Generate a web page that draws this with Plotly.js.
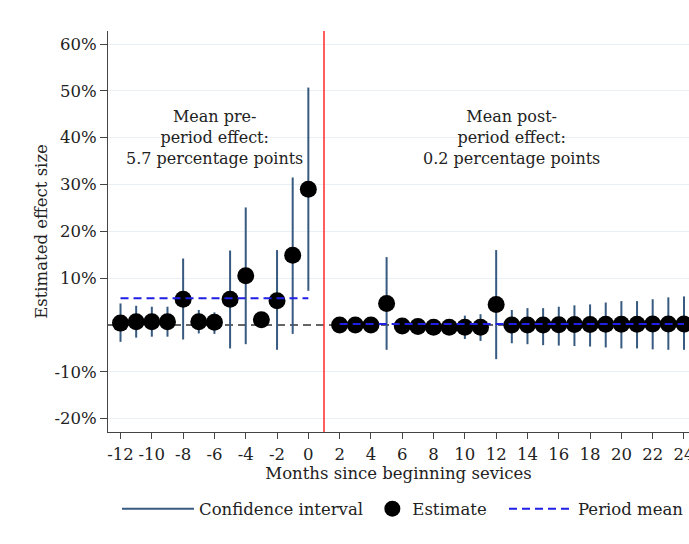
<!DOCTYPE html>
<html>
<head>
<meta charset="utf-8">
<script src="https://cdn.plot.ly/plotly-3.0.1.min.js"></script>
<style>html,body{margin:0;padding:0;background:#fff;}#chart{width:689px;height:544px;}</style>
</head>
<body>
<div id="chart"></div>
<script>
// ---- data ----
const monthsPre = [-12, -11, -10, -9, -8, -7, -6, -5, -4, -3, -2, -1, 0];
const estPre    = [0.4, 0.7, 0.7, 0.7, 5.5, 0.7, 0.6, 5.5, 10.5, 1.1, 5.2, 14.9, 29.0];
const hiPre     = [4.6, 4.1, 3.9, 3.9, 14.2, 3.2, 2.7, 15.9, 25.1, 2.6, 16.0, 31.5, 50.7];
const loPre     = [-3.6, -2.7, -2.5, -2.5, -3.1, -1.8, -1.9, -5.0, -4.1, -0.5, -5.3, -1.9, 7.3];

const monthsPost = [2, 3, 4, 5, 6, 7, 8, 9, 10, 11, 12, 13, 14, 15, 16, 17, 18, 19, 20, 21, 22, 23, 24];
const estPost    = [0.0, 0.0, 0.0, 4.6, -0.2, -0.3, -0.5, -0.5, -0.5, -0.5, 4.4, 0.0, 0.0, 0.0, 0.05, 0.1, 0.1, 0.15, 0.15, 0.15, 0.2, 0.2, 0.2];
const hiPost     = [1.3, 1.3, 1.3, 14.5, 1.1, 1.0, 0.9, 1.0, 2.0, 2.3, 16.0, 3.2, 3.6, 3.6, 3.9, 4.2, 4.4, 4.8, 5.1, 5.1, 5.5, 5.9, 6.1];
const loPost     = [-1.3, -1.3, -1.3, -5.3, -1.5, -1.6, -1.8, -1.9, -3.0, -3.4, -7.3, -3.9, -4.1, -4.3, -4.4, -4.5, -4.6, -4.8, -5.0, -5.0, -5.2, -5.3, -5.3];

const preMean  = 5.7;
const postMean = 0.2;
const serviceStart = 1;

const xTickVals = [-12, -10, -8, -6, -4, -2, 0, 2, 4, 6, 8, 10, 12, 14, 16, 18, 20, 22, 24];
const yTickVals = [-20, -10, 10, 20, 30, 40, 50, 60];

const preLabel  = ["Mean pre-", "period effect:", "5.7 percentage points"];
const postLabel = ["Mean post-", "period effect:", "0.2 percentage points"];

// ---- build traces ----
const allMonths = monthsPre.concat(monthsPost);
const allEst = estPre.concat(estPost);
const allHi = hiPre.concat(hiPost);
const allLo = loPre.concat(loPost);

const ciX = [], ciY = [];
allMonths.forEach((m, i) => { ciX.push(m, m, null); ciY.push(allLo[i], allHi[i], null); });

const FONT = "DejaVu Serif, serif";
const TXT = '#222';

const traces = [
  {
    type: 'scatter', mode: 'lines', name: 'Confidence interval', legend: 'legend',
    x: ciX, y: ciY,
    line: {color: '#375a80', width: 2},
    hoverinfo: 'skip'
  },
  {
    type: 'scatter', mode: 'markers', name: 'Estimate', legend: 'legend2',
    x: allMonths, y: allEst,
    marker: {color: '#000', size: 17}
  },
  {
    type: 'scatter', mode: 'lines', name: 'Period mean', legend: 'legend3',
    x: [monthsPre[0], monthsPre[monthsPre.length - 1], null, monthsPost[0], monthsPost[monthsPost.length - 1]],
    y: [preMean, preMean, null, postMean, postMean],
    line: {color: '#1f1fe6', width: 2, dash: '8px,5px'},
    connectgaps: false
  }
];

function leg(x, w) {
  return {
    orientation: 'h', x: x, y: -0.192, xanchor: 'left', yanchor: 'middle',
    itemwidth: w, font: {family: FONT, size: 16.5, color: TXT},
    bgcolor: 'rgba(0,0,0,0)'
  };
}

const layout = {
  width: 689, height: 544,
  margin: {l: 108, r: 0, t: 31, b: 112},
  paper_bgcolor: '#fff', plot_bgcolor: '#fff',
  font: {family: FONT, size: 16.5, color: TXT},
  showlegend: true,
  legend: leg(0.0155, 72),
  legend2: leg(0.455, 30),
  legend3: leg(0.682, 64),
  xaxis: {
    range: [-12.8, 24.32],
    tickvals: xTickVals, ticktext: xTickVals.map(v => String(v)),
    ticks: 'outside', ticklen: 6, tickcolor: '#444', tickwidth: 1,
    ticklabeloverflow: 'allow', ticklabelstandoff: 1,
    showline: true, linecolor: '#444', linewidth: 1,
    showgrid: false, zeroline: false,
    tickfont: {family: FONT, size: 16.5, color: TXT},
    title: {text: 'Months since beginning sevices', font: {family: FONT, size: 16.5, color: TXT}, standoff: 0}
  },
  yaxis: {
    range: [-22.85, 62.78],
    tickvals: yTickVals, ticktext: yTickVals.map(v => v + '%'),
    ticks: 'outside', ticklen: 7, tickcolor: '#444', tickwidth: 1,
    showline: true, linecolor: '#444', linewidth: 1,
    showgrid: true, gridcolor: '#e9eff3', gridwidth: 1,
    zeroline: false,
    tickfont: {family: FONT, size: 16.5, color: TXT},
    title: {text: 'Estimated effect size', font: {family: FONT, size: 16.5, color: TXT}, standoff: 2}
  },
  shapes: [
    {type: 'line', xref: 'paper', yref: 'y', x0: 0, x1: 1, y0: 0, y1: 0,
     line: {color: '#333', width: 1.6, dash: '8px,5px'}, layer: 'below'},
    {type: 'line', xref: 'x', yref: 'paper', x0: serviceStart, x1: serviceStart, y0: 0, y1: 1,
     line: {color: '#ff3535', width: 1.6}}
  ],
  annotations: [
    {x: (monthsPre[0] + monthsPre[monthsPre.length - 1]) / 2, y: 40, xref: 'x', yref: 'y',
     text: preLabel.join('<br>'), showarrow: false, align: 'center',
     font: {family: FONT, size: 16, color: TXT}},
    {x: 13, y: 40, xref: 'x', yref: 'y',
     text: postLabel.join('<br>'), showarrow: false, align: 'center',
     font: {family: FONT, size: 16, color: TXT}}
  ]
};

Plotly.newPlot('chart', traces, layout, {displayModeBar: false, staticPlot: true});
</script>
</body>
</html>
